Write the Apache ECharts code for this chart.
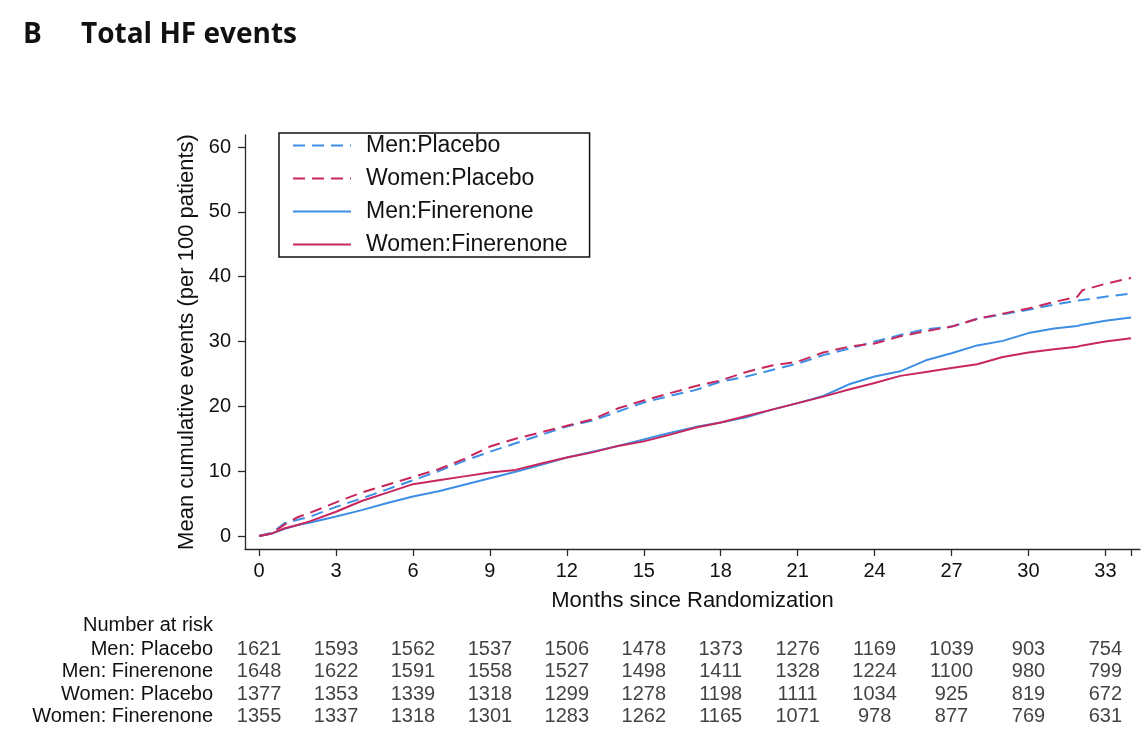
<!DOCTYPE html>
<html>
<head>
<meta charset="utf-8">
<script src="https://cdn.jsdelivr.net/npm/echarts@6/dist/echarts.min.js"></script>
<style>
html,body{margin:0;padding:0;background:#fff;}
#chart{width:1145px;height:742px;}
</style>
</head>
<body>
<div id="chart"></div>
<script>
// ---- data ----
const months = [0, 0.5, 1, 1.5, 2, 3, 4, 5, 6, 7, 8, 9, 10, 11, 12, 13, 14, 15, 16, 17, 18, 19, 20,
  21, 22, 23, 24, 25, 26, 27, 28, 29, 30, 31, 31.9, 32.1, 33, 34];
const menPlacebo = [0, 0.5, 2.0, 2.5, 3.0, 4.5, 5.8, 7.2, 8.6, 10.0, 11.6, 13.0, 14.3, 15.6, 16.9, 17.8,
  19.2, 20.6, 21.6, 22.5, 23.8, 24.6, 25.6, 26.6, 27.9, 28.9, 30.0, 31.0, 31.9, 32.3, 33.5, 34.2, 34.9,
  35.7, 36.3, 36.4, 36.9, 37.4];
const womenPlacebo = [0, 0.4, 1.8, 2.9, 3.6, 5.2, 6.7, 7.9, 9.1, 10.3, 11.9, 13.8, 15.0, 16.0, 17.0, 18.0,
  19.7, 20.9, 22.0, 23.1, 24.0, 25.3, 26.3, 26.9, 28.3, 29.2, 29.7, 30.8, 31.6, 32.3, 33.5, 34.3, 35.1,
  36.1, 36.9, 37.9, 38.9, 39.8];
const menFinerenone = [0, 0.4, 1.1, 1.7, 2.1, 3.0, 4.0, 5.1, 6.1, 6.9, 7.9, 8.9, 9.9, 11.0, 12.1, 13.0,
  13.9, 14.9, 15.9, 16.8, 17.5, 18.3, 19.5, 20.5, 21.6, 23.4, 24.6, 25.4, 27.1, 28.2, 29.4, 30.1, 31.3,
  32.0, 32.4, 32.6, 33.2, 33.7];
const womenFinerenone = [0, 0.4, 1.2, 1.7, 2.3, 3.75, 5.4, 6.7, 8.0, 8.6, 9.2, 9.8, 10.2, 11.2, 12.1, 12.9,
  13.9, 14.6, 15.6, 16.7, 17.5, 18.5, 19.5, 20.5, 21.5, 22.6, 23.6, 24.7, 25.3, 25.9, 26.5, 27.6, 28.3,
  28.8, 29.2, 29.4, 30.0, 30.5];

const seriesNames = ['Men:Placebo', 'Women:Placebo', 'Men:Finerenone', 'Women:Finerenone'];

const xTickValues = [0, 3, 6, 9, 12, 15, 18, 21, 24, 27, 30, 33, 34];
const xLabelValues = [0, 3, 6, 9, 12, 15, 18, 21, 24, 27, 30, 33];
const yTickValues = [0, 10, 20, 30, 40, 50, 60];

const riskMonths = [0, 3, 6, 9, 12, 15, 18, 21, 24, 27, 30, 33];
const riskRows = ['Men: Placebo', 'Men: Finerenone', 'Women: Placebo', 'Women: Finerenone'];
const riskMenPlacebo = [1621, 1593, 1562, 1537, 1506, 1478, 1373, 1276, 1169, 1039, 903, 754];
const riskMenFinerenone = [1648, 1622, 1591, 1558, 1527, 1498, 1411, 1328, 1224, 1100, 980, 799];
const riskWomenPlacebo = [1377, 1353, 1339, 1318, 1299, 1278, 1198, 1111, 1034, 925, 819, 672];
const riskWomenFinerenone = [1355, 1337, 1318, 1301, 1283, 1262, 1165, 1071, 978, 877, 769, 631];

// ---- build ----
const BLUE = '#3d8fe6';
const RED = '#c8275d';
const FONT = 'Liberation Sans, Arial, Helvetica, sans-serif';

function pairs(vals) { return months.map((m, i) => [m, vals[i]]); }

const curveDefs = [
  { name: seriesNames[0], vals: menPlacebo, color: BLUE, dash: [12, 7] },
  { name: seriesNames[1], vals: womenPlacebo, color: RED, dash: [12, 7] },
  { name: seriesNames[2], vals: menFinerenone, color: BLUE, dash: 'solid' },
  { name: seriesNames[3], vals: womenFinerenone, color: RED, dash: 'solid' }
];

const curveSeries = curveDefs.map(d => ({
  name: d.name,
  type: 'line',
  xAxisIndex: 0,
  yAxisIndex: 0,
  data: pairs(d.vals),
  symbol: 'none',
  showSymbol: false,
  color: d.color,
  lineStyle: { color: d.color, width: 2, type: d.dash },
  animation: false
}));

const riskArrays = [riskMenPlacebo, riskMenFinerenone, riskWomenPlacebo, riskWomenFinerenone];
const riskData = [];
riskArrays.forEach((arr, r) => {
  arr.forEach((v, i) => riskData.push([riskMonths[i], riskRows[r], v]));
});

const axisColor = '#2a2a2a';

const option = {
  backgroundColor: '#fff',
  animation: false,
  title: [
    { text: 'B', left: 18, top: 16, textStyle: { fontFamily: 'Open Sans', fontWeight: 700, fontSize: 28, color: '#111' } },
    { text: 'Total HF events', left: 76, top: 16, textStyle: { fontFamily: 'Open Sans', fontWeight: 700, fontSize: 28, color: '#111' } },
    { text: 'Number at risk', right: 932, top: 615, padding: 0, textStyle: { fontFamily: FONT, fontWeight: 'normal', fontSize: 20, color: '#111' } }
  ],
  legend: {
    data: seriesNames,
    orient: 'vertical',
    left: 279,
    top: 133,
    padding: [1, 22, 1, 13],
    itemWidth: 58,
    itemHeight: 20,
    itemGap: 10,
    borderColor: '#111',
    borderWidth: 1.5,
    itemStyle: { opacity: 0 },
    lineStyle: { width: 2 },
    textStyle: { fontFamily: FONT, fontSize: 23, color: '#111', lineHeight: 20, padding: [0, 0, 0, 10] }
  },
  grid: [
    { left: 245, right: 5, top: 135, bottom: 193 },
    { left: 245, right: 5, top: 638, height: 90 }
  ],
  xAxis: [
    {
      type: 'value', gridIndex: 0, min: -0.55, max: 34.35,
      name: 'Months since Randomization', nameLocation: 'middle', nameGap: 41,
      nameTextStyle: { fontFamily: FONT, fontSize: 22, color: '#111' },
      axisLine: { show: true, onZero: false, lineStyle: { color: axisColor, width: 1.3 } },
      axisTick: { show: true, length: 7, customValues: xTickValues, lineStyle: { color: axisColor, width: 1.3 } },
      axisLabel: { customValues: xLabelValues, margin: 12, fontFamily: FONT, fontSize: 20, color: '#111' },
      splitLine: { show: false }
    },
    {
      type: 'value', gridIndex: 1, min: -0.55, max: 34.35,
      show: false
    }
  ],
  yAxis: [
    {
      type: 'value', gridIndex: 0, min: -2, max: 61.85,
      name: 'Mean cumulative events (per 100 patients)', nameLocation: 'middle', nameGap: 47,
      nameTextStyle: { fontFamily: FONT, fontSize: 22, color: '#111' },
      axisLine: { show: true, onZero: false, lineStyle: { color: axisColor, width: 1.3 } },
      axisTick: { show: true, length: 7, customValues: yTickValues, lineStyle: { color: axisColor, width: 1.3 } },
      axisLabel: { customValues: yTickValues, margin: 14, fontFamily: FONT, fontSize: 20, color: '#111' },
      splitLine: { show: false }
    },
    {
      type: 'category', gridIndex: 1, data: riskRows, inverse: true,
      axisLine: { show: false }, axisTick: { show: false }, splitLine: { show: false },
      axisLabel: { interval: 0, margin: 32, fontFamily: FONT, fontSize: 20, color: '#111', align: 'right' }
    }
  ],
  series: curveSeries.concat([
    {
      type: 'scatter',
      xAxisIndex: 1,
      yAxisIndex: 1,
      data: riskData,
      symbolSize: 0,
      silent: true,
      label: {
        show: true,
        position: 'inside',
        formatter: p => String(p.value[2]),
        fontFamily: FONT,
        fontSize: 20,
        color: '#111'
      }
    }
  ])
};

const chart = echarts.init(document.getElementById('chart'), null, { renderer: 'canvas' });
chart.setOption(option);
</script>
</body>
</html>
